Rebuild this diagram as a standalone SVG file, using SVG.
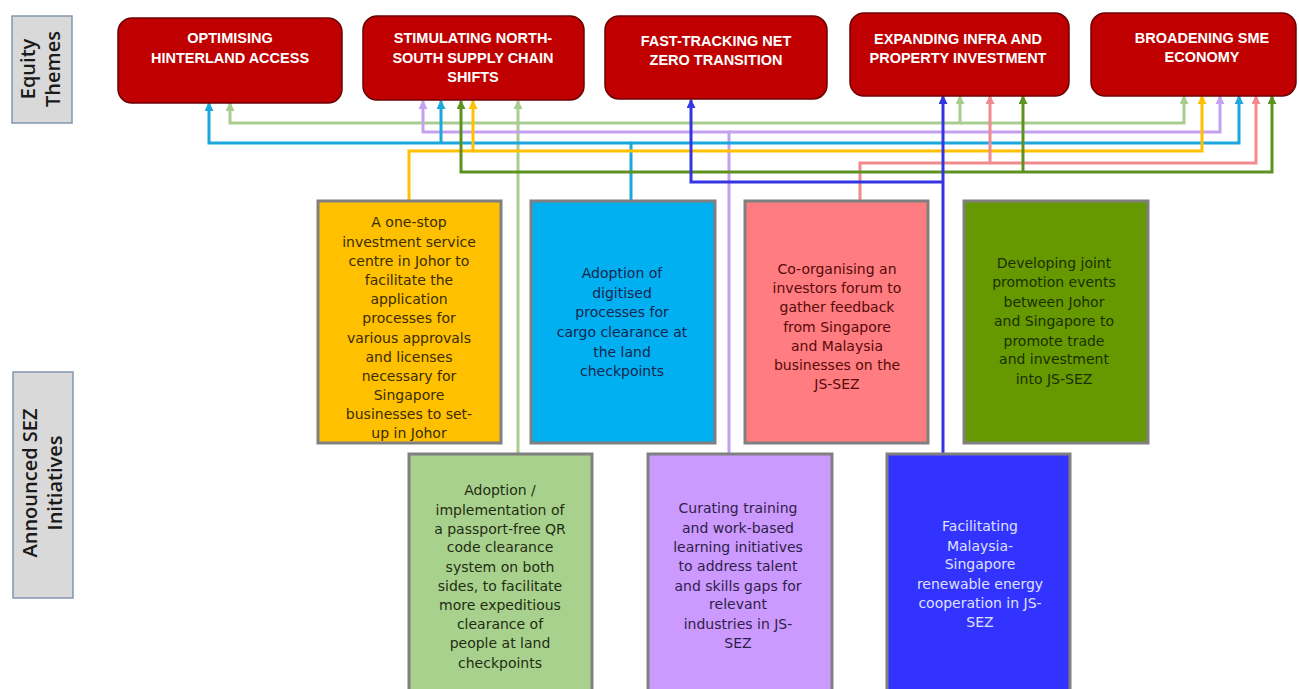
<svg xmlns="http://www.w3.org/2000/svg" width="1299" height="689" viewBox="0 0 1299 689">
<style>
.side{fill:#d9d9d9;stroke:#8496b0;stroke-width:1.5}
.sidet{font-family:"Open Sans","Liberation Sans",sans-serif;font-weight:600;font-size:20px;fill:#1a1a1a;text-anchor:middle}
.theme{fill:#c00000;stroke:#6b0000;stroke-width:1.5}
.themet{font-family:"Liberation Sans",Arial,sans-serif;font-weight:bold;font-size:14.5px;fill:#ffffff;text-anchor:middle}
.init{stroke:#808080;stroke-width:3}
.initt{font-family:"DejaVu Sans","Liberation Sans",sans-serif;font-size:14px;text-anchor:middle}
.c{fill:none;stroke-width:3;stroke-linejoin:miter}
.lg{stroke:#a9cd90}.lv{stroke:#c3a0f0}.bl{stroke:#1aa7de}.ye{stroke:#ffc000}.pk{stroke:#f08a8e}.dg{stroke:#5e9220}.db{stroke:#3434e0}
</style>
<defs>
<marker id="a-lg" markerUnits="userSpaceOnUse" markerWidth="10" markerHeight="10" refX="8" refY="4.5" orient="auto"><path d="M0,0 L9,4.5 L0,9 z" fill="#a9cd90"/></marker>
<marker id="a-lv" markerUnits="userSpaceOnUse" markerWidth="10" markerHeight="10" refX="8" refY="4.5" orient="auto"><path d="M0,0 L9,4.5 L0,9 z" fill="#c3a0f0"/></marker>
<marker id="a-bl" markerUnits="userSpaceOnUse" markerWidth="10" markerHeight="10" refX="8" refY="4.5" orient="auto"><path d="M0,0 L9,4.5 L0,9 z" fill="#1aa7de"/></marker>
<marker id="a-ye" markerUnits="userSpaceOnUse" markerWidth="10" markerHeight="10" refX="8" refY="4.5" orient="auto"><path d="M0,0 L9,4.5 L0,9 z" fill="#ffc000"/></marker>
<marker id="a-pk" markerUnits="userSpaceOnUse" markerWidth="10" markerHeight="10" refX="8" refY="4.5" orient="auto"><path d="M0,0 L9,4.5 L0,9 z" fill="#f08a8e"/></marker>
<marker id="a-dg" markerUnits="userSpaceOnUse" markerWidth="10" markerHeight="10" refX="8" refY="4.5" orient="auto"><path d="M0,0 L9,4.5 L0,9 z" fill="#5e9220"/></marker>
<marker id="a-db" markerUnits="userSpaceOnUse" markerWidth="10" markerHeight="10" refX="8" refY="4.5" orient="auto"><path d="M0,0 L9,4.5 L0,9 z" fill="#3434e0"/></marker>
</defs>
<rect width="1299" height="689" fill="#ffffff"/>

<g id="label-equity">
<rect class="side" x="12" y="16" width="60" height="107"/>
<text class="sidet" transform="translate(0,69) rotate(-90)"><tspan x="0" y="35">Equity</tspan><tspan x="0" y="60">Themes</tspan></text>
</g>
<g id="label-sez">
<rect class="side" x="13" y="372" width="60" height="226"/>
<text class="sidet" transform="translate(0,483) rotate(-90)"><tspan x="0" y="37">Announced SEZ</tspan><tspan x="0" y="62">Initiatives</tspan></text>
</g>

<g id="connectors">
<path class="c lg" d="M518,453 V101" marker-end="url(#a-lg)"/>
<path class="c lg" d="M518,123 H230 V103" marker-end="url(#a-lg)"/>
<path class="c lg" d="M518,123 H960 V96" marker-end="url(#a-lg)"/>
<path class="c lg" d="M960,123 H1184 V96" marker-end="url(#a-lg)"/>
<path class="c lv" d="M729,453 V132 H423 V101" marker-end="url(#a-lv)"/>
<path class="c lv" d="M729,132 H1220 V96" marker-end="url(#a-lv)"/>
<path class="c bl" d="M631,200 V143 H209 V103" marker-end="url(#a-bl)"/>
<path class="c bl" d="M441,143 V101" marker-end="url(#a-bl)"/>
<path class="c bl" d="M631,143 H1239 V96" marker-end="url(#a-bl)"/>
<path class="c ye" d="M409,200 V151 H473 V101" marker-end="url(#a-ye)"/>
<path class="c ye" d="M473,151 H1202 V96" marker-end="url(#a-ye)"/>
<path class="c pk" d="M860,200 V163 H990 V96" marker-end="url(#a-pk)"/>
<path class="c pk" d="M990,163 H1256 V96" marker-end="url(#a-pk)"/>
<path class="c dg" d="M1023,172 H461 V101" marker-end="url(#a-dg)"/>
<path class="c dg" d="M1023,172 V96" marker-end="url(#a-dg)"/>
<path class="c dg" d="M1023,172 H1272 V96" marker-end="url(#a-dg)"/>
<path class="c db" d="M943,453 V96" marker-end="url(#a-db)"/>
<path class="c db" d="M943,182 H691 V100" marker-end="url(#a-db)"/>
</g>

<g id="theme-hinterland">
<rect class="theme" x="118" y="18" width="224" height="85" rx="14"/>
<text class="themet"><tspan x="230" y="43">OPTIMISING</tspan><tspan x="230" y="63">HINTERLAND ACCESS</tspan></text>
</g>
<g id="theme-supply">
<rect class="theme" x="363" y="16" width="221" height="84" rx="14"/>
<text class="themet"><tspan x="473" y="43">STIMULATING NORTH-</tspan><tspan x="473" y="63">SOUTH SUPPLY CHAIN</tspan><tspan x="473" y="82">SHIFTS</tspan></text>
</g>
<g id="theme-netzero">
<rect class="theme" x="605" y="16" width="222" height="83" rx="14"/>
<text class="themet"><tspan x="716" y="46">FAST-TRACKING NET</tspan><tspan x="716" y="65">ZERO TRANSITION</tspan></text>
</g>
<g id="theme-infra">
<rect class="theme" x="850" y="13" width="219" height="83" rx="14"/>
<text class="themet"><tspan x="958" y="44">EXPANDING INFRA AND</tspan><tspan x="958" y="63">PROPERTY INVESTMENT</tspan></text>
</g>
<g id="theme-sme">
<rect class="theme" x="1091" y="13" width="205" height="83" rx="14"/>
<text class="themet"><tspan x="1202" y="43">BROADENING SME</tspan><tspan x="1202" y="62">ECONOMY</tspan></text>
</g>

<g id="init-onestop">
<rect class="init" x="318" y="201" width="183" height="242" fill="#ffc000"/>
<text class="initt" fill="#3a2d00"><tspan x="409" y="227">A one-stop</tspan><tspan x="409" y="247">investment service</tspan><tspan x="409" y="266">centre in Johor to</tspan><tspan x="409" y="285">facilitate the</tspan><tspan x="409" y="304">application</tspan><tspan x="409" y="323">processes for</tspan><tspan x="409" y="343">various approvals</tspan><tspan x="409" y="362">and licenses</tspan><tspan x="409" y="381">necessary for</tspan><tspan x="409" y="400">Singapore</tspan><tspan x="409" y="419">businesses to set-</tspan><tspan x="409" y="438">up in Johor</tspan></text>
</g>
<g id="init-cargo">
<rect class="init" x="531" y="201" width="184" height="242" fill="#00b0f0"/>
<text class="initt" fill="#16264f"><tspan x="622" y="278">Adoption of</tspan><tspan x="622" y="298">digitised</tspan><tspan x="622" y="317">processes for</tspan><tspan x="622" y="337">cargo clearance at</tspan><tspan x="622" y="357">the land</tspan><tspan x="622" y="376">checkpoints</tspan></text>
</g>
<g id="init-forum">
<rect class="init" x="745" y="201" width="183" height="242" fill="#ff7c80"/>
<text class="initt" fill="#560b0b"><tspan x="837" y="274">Co-organising an</tspan><tspan x="837" y="293">investors forum to</tspan><tspan x="837" y="312">gather feedback</tspan><tspan x="837" y="332">from Singapore</tspan><tspan x="837" y="351">and Malaysia</tspan><tspan x="837" y="370">businesses on the</tspan><tspan x="837" y="389">JS-SEZ</tspan></text>
</g>
<g id="init-promotion">
<rect class="init" x="964" y="201" width="184" height="242" fill="#669900"/>
<text class="initt" fill="#1a3000"><tspan x="1054" y="268">Developing joint</tspan><tspan x="1054" y="287">promotion events</tspan><tspan x="1054" y="307">between Johor</tspan><tspan x="1054" y="326">and Singapore to</tspan><tspan x="1054" y="346">promote trade</tspan><tspan x="1054" y="364">and investment</tspan><tspan x="1054" y="384">into JS-SEZ</tspan></text>
</g>
<g id="init-qr">
<rect class="init" x="409" y="454" width="183" height="240" fill="#a9d18e"/>
<text class="initt" fill="#1f2d12"><tspan x="500" y="495">Adoption /</tspan><tspan x="500" y="515">implementation of</tspan><tspan x="500" y="534">a passport-free QR</tspan><tspan x="500" y="552">code clearance</tspan><tspan x="500" y="572">system on both</tspan><tspan x="500" y="591">sides, to facilitate</tspan><tspan x="500" y="610">more expeditious</tspan><tspan x="500" y="629">clearance of</tspan><tspan x="500" y="648">people at land</tspan><tspan x="500" y="668">checkpoints</tspan></text>
</g>
<g id="init-training">
<rect class="init" x="648" y="454" width="184" height="240" fill="#cc99ff"/>
<text class="initt" fill="#2e1f47"><tspan x="738" y="513">Curating training</tspan><tspan x="738" y="533">and work-based</tspan><tspan x="738" y="552">learning initiatives</tspan><tspan x="738" y="571">to address talent</tspan><tspan x="738" y="591">and skills  gaps for</tspan><tspan x="738" y="609">relevant</tspan><tspan x="738" y="629">industries in JS-</tspan><tspan x="738" y="648">SEZ</tspan></text>
</g>
<g id="init-energy">
<rect class="init" x="887" y="454" width="183" height="240" fill="#3333ff"/>
<text class="initt" fill="#dfe0ff"><tspan x="980" y="531">Facilitating</tspan><tspan x="980" y="551">Malaysia-</tspan><tspan x="980" y="569">Singapore</tspan><tspan x="980" y="589">renewable energy</tspan><tspan x="980" y="608">cooperation in JS-</tspan><tspan x="980" y="627">SEZ</tspan></text>
</g>
</svg>
